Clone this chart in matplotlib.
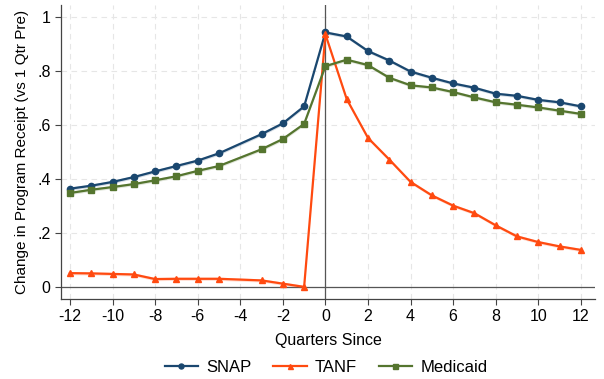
import matplotlib; matplotlib.use('Agg')
import numpy as np
from matplotlib import pyplot as plt

plt.rcParams.update({
    'font.family': ['Liberation Sans', 'DejaVu Sans'],
    'font.size': 11.5,
})

# Quarters relative to event (no estimate at -4)
quarters = [-12, -11, -10, -9, -8, -7, -6, -5, -3, -2, -1,
            0, 1, 2, 3, 4, 5, 6, 7, 8, 9, 10, 11, 12]

snap = [0.364, 0.375, 0.389, 0.407, 0.428, 0.448, 0.468, 0.495, 0.566, 0.606, 0.669,
        0.943, 0.928, 0.874, 0.839, 0.798, 0.775, 0.754, 0.738, 0.716, 0.708, 0.693,
        0.684, 0.669]
tanf = [0.051, 0.050, 0.048, 0.046, 0.029, 0.030, 0.030, 0.030, 0.024, 0.012, 0.000,
        0.936, 0.696, 0.552, 0.472, 0.389, 0.339, 0.301, 0.273, 0.228, 0.187, 0.166,
        0.150, 0.137]
medicaid = [0.348, 0.360, 0.370, 0.381, 0.395, 0.410, 0.430, 0.448, 0.510, 0.548, 0.604,
            0.818, 0.842, 0.822, 0.775, 0.747, 0.739, 0.722, 0.702, 0.684, 0.675, 0.665,
            0.653, 0.641]

x_ticks = list(range(-12, 13, 2))
y_ticks = [0, .2, .4, .6, .8, 1]
y_ticklabels = ['0', '.2', '.4', '.6', '.8', '1']

SNAP_C = '#1a476f'
TANF_C = '#ff4a10'
MED_C = '#55752f'

fig = plt.figure(figsize=(6.04, 3.79), dpi=100)
ax = fig.add_axes([0.101, 0.211, 0.884, 0.776])

x = np.array(quarters)
series = [
    (snap, SNAP_C, 'o', 'SNAP'),
    (tanf, TANF_C, '^', 'TANF'),
    (medicaid, MED_C, 's', 'Medicaid'),
]
for vals, c, m, lab in series:
    v = np.array(vals)
    ax.fill_between(x, v - 0.006, v + 0.006, color=c, alpha=0.18, lw=0, zorder=2)
    ax.plot(x, v, color=c, marker=m, markersize=4.5, lw=1.6, label=lab, zorder=3)

ax.axvline(0, color='#555555', lw=0.9, zorder=1)
ax.axhline(0, color='#555555', lw=0.9, zorder=1)

ax.set_xlim(-12.42, 12.66)
ax.set_ylim(-0.045, 1.045)
ax.set_xticks(x_ticks)
ax.set_xticklabels([str(t) for t in x_ticks])
ax.set_yticks(y_ticks)
ax.set_yticklabels(y_ticklabels)
ax.grid(True, color='#e6e6e6', ls=(0, (5, 4)), lw=0.8, zorder=0)
ax.set_axisbelow(True)

for s in ['top', 'right']:
    ax.spines[s].set_visible(False)
for s in ['left', 'bottom']:
    ax.spines[s].set_color('#444444')
    ax.spines[s].set_linewidth(0.9)
ax.tick_params(direction='out', length=4, color='#444444', width=0.8,
               labelsize=11.5)

ax.set_xlabel('Quarters Since', labelpad=6)
ax.set_ylabel('Change in Program Receipt (vs 1 Qtr Pre)', fontsize=11, labelpad=6)

fig.legend(*ax.get_legend_handles_labels(), loc='center',
           bbox_to_anchor=(0.54, 0.03), ncol=3, frameon=False, fontsize=12,
           handlelength=2.0, handletextpad=0.5, columnspacing=1.3,
           markerscale=0.8)

plt.savefig('out.png', dpi=100)
plt.close()
